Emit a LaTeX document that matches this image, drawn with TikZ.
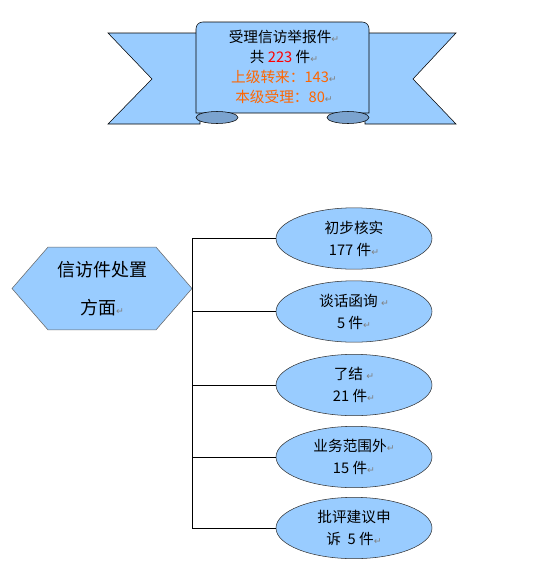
\documentclass[tikz,border=0pt]{standalone}
\usepackage{fontspec}
\newfontfamily\cjk{Noto Sans CJK SC}
\newfontfamily\symfont{DejaVu Sans}
\usetikzlibrary{shapes.geometric,shapes.symbols,positioning}
\definecolor{skyblue}{HTML}{99CCFF}
\definecolor{foldblue}{HTML}{7BA3CF}
\definecolor{numred}{HTML}{FF0000}
\definecolor{numorange}{HTML}{FF6600}
\newcommand{\retmark}{{\symfont\color{gray}\fontsize{7}{7}\selectfont ↵}}

\begin{document}
\begin{tikzpicture}[x=0.75pt,y=-0.75pt,
			hex node/.style={
				signal, signal to=east and west, signal pointer angle=98,
				draw=black!60, fill=skyblue, align=center,
				minimum width=135pt, minimum height=62pt, inner sep=0pt,
				font=\cjk\fontsize{13.5}{28.5}\selectfont},
			leaf node/.style={
				ellipse, draw=black!80, fill=skyblue, align=center,
				minimum width=117pt, minimum height=46pt, inner sep=0pt,
				font=\cjk\fontsize{11}{16.5}\selectfont}
			]
			\useasboundingbox (0,0) rectangle (539,579);
			
			% banner
			\draw[fill=skyblue] (108,33) -- (200,33) -- (200,124) -- (108,124) -- (152,79) -- cycle;
			\draw[fill=skyblue] (456,33) -- (365,33) -- (365,124) -- (456,124) -- (413,79) -- cycle;
			\draw[fill=skyblue] (196,113) [rounded corners=5pt] -- (196,22) -- (369,22) [sharp corners] -- (369,113) -- cycle;
			\draw[fill=foldblue] (217,117.5) ellipse [x radius=21, y radius=6];
			\draw[fill=foldblue] (348,117.5) ellipse [x radius=21, y radius=6];
			\node[font=\cjk\fontsize{11}{15}\selectfont, align=center] (title) at (284,67)
			{受理信访举报件\retmark\\共 \textcolor{numred}{223} 件\retmark\\
				\textcolor{numorange}{上级转来：143}\retmark\\
				\textcolor{numorange}{本级受理：80}\retmark};
			
			\node[hex node] (hex) at (102,288.5)
			{信访件处置\\方面\retmark};
			\node[leaf node] (e1) at (354,238.5)
			{初步核实\\177 件\retmark};
			\node[leaf node] (e2) at (354,311.5)
			{谈话函询 \retmark\\5 件\retmark};
			\node[leaf node] (e3) at (354,385)
			{了结 \retmark\\21 件\retmark};
			\node[leaf node] (e4) at (354,457)
			{业务范围外\retmark\\15 件\retmark};
			\node[leaf node] (e5) at (354,528)
			{批评建议申\\诉\ \ 5 件\retmark};
			
			\draw[black] (hex.east) |- (e1.west);
			\draw[black] (hex.east) |- (e2.west);
			\draw[black] (hex.east) |- (e3.west);
			\draw[black] (hex.east) |- (e4.west);
			\draw[black] (hex.east) |- (e5.west);
		\end{tikzpicture}
\end{document}
